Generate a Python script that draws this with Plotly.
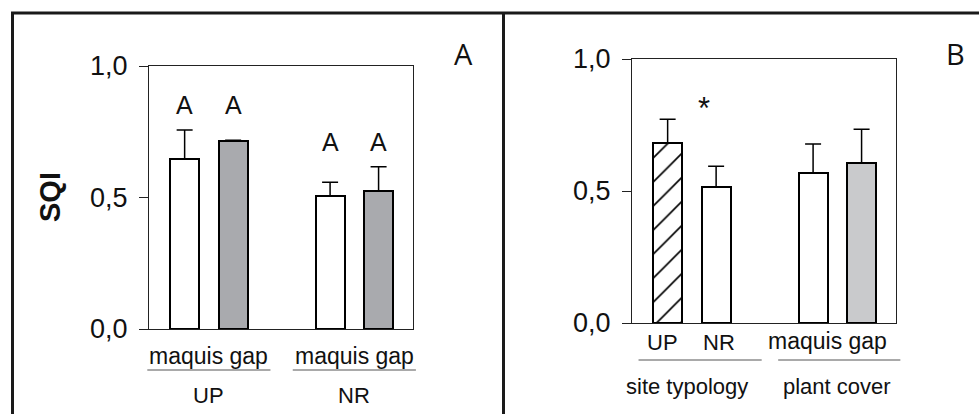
import plotly.graph_objects as go

# ---------------- data ----------------
a_categories = ["maquis", "gap", "maquis", "gap"]
a_groups = ["UP", "NR"]
a_values = [0.646, 0.715, 0.506, 0.525]
a_errors = [0.111, 0.003, 0.052, 0.092]
a_letters = ["A", "A", "A", "A"]

b_categories = ["UP", "NR", "maquis", "gap"]
b_groups = ["site typology", "plant cover"]
b_values = [0.683, 0.515, 0.567, 0.607]
b_errors = [0.089, 0.079, 0.111, 0.127]
b_marks = ["*"]

y_ticks = [0.0, 0.5, 1.0]
y_ticktext = ["0,0", "0,5", "1,0"]

# ---------------- layout helpers ----------------
W, H = 979, 414
xpos = [1, 2, 4, 5]
xr = [0.265, 5.71]
domA = dict(x=[149 / W, 413 / W], y=[1 - 329 / H, 1 - 66 / H])
domB = dict(x=[632 / W, 896 / W], y=[1 - 323 / H, 1 - 59 / H])
FONT = "Liberation Sans, Arial, sans-serif"
BAR_W = 0.6


def xpaper(dom, x):
    return dom["x"][0] + (x - xr[0]) / (xr[1] - xr[0]) * (dom["x"][1] - dom["x"][0])


def ypx(py):
    return 1 - py / H


fig = go.Figure()

a_colors = ["white", "#a9aaae", "white", "#a9aaae"]
fig.add_trace(go.Bar(
    x=xpos, y=a_values, width=BAR_W, xaxis="x", yaxis="y",
    marker=dict(color=a_colors, line=dict(color="black", width=2)),
    error_y=dict(type="data", symmetric=False, array=a_errors,
                 arrayminus=[0] * 4, color="black", thickness=1.5, width=8),
    showlegend=False, hoverinfo="skip"))

b_colors = ["white", "white", "white", "#c9cacc"]
hatched = [0]          # index of the hatched bar (UP)
plain = [1, 2, 3]
err_style = dict(type="data", symmetric=False, color="black", thickness=1.5, width=8)
fig.add_trace(go.Bar(
    x=[xpos[i] for i in hatched], y=[b_values[i] for i in hatched], width=BAR_W,
    xaxis="x2", yaxis="y2",
    marker=dict(color="white", line=dict(color="black", width=2),
                pattern=dict(shape="/", fgcolor="#000000", bgcolor="#ffffff",
                             fgopacity=1, size=17, solidity=0.1)),
    error_y=dict(array=[b_errors[i] for i in hatched], arrayminus=[0] * len(hatched),
                 **err_style),
    showlegend=False, hoverinfo="skip"))
fig.add_trace(go.Bar(
    x=[xpos[i] for i in plain], y=[b_values[i] for i in plain], width=BAR_W,
    xaxis="x2", yaxis="y2",
    marker=dict(color=[b_colors[i] for i in plain], line=dict(color="black", width=2)),
    error_y=dict(array=[b_errors[i] for i in plain], arrayminus=[0] * len(plain),
                 **err_style),
    showlegend=False, hoverinfo="skip"))

axis_common = dict(range=xr, showticklabels=False, ticks="", showgrid=False,
                   zeroline=False, showline=True, mirror=True,
                   linecolor="#222", linewidth=1.3, fixedrange=True)
yaxis_common = dict(range=[0, 1], tickvals=y_ticks, ticktext=y_ticktext,
                    ticks="outside", ticklen=9, tickwidth=1.3, tickcolor="#222",
                    showgrid=False, zeroline=False, showline=True, mirror=True,
                    linecolor="#222", linewidth=1.3,
                    tickfont=dict(family=FONT, size=27, color="#111"),
                    ticklabelstandoff=6, fixedrange=True)

annotations = []
shapes = []


def ann(**kw):
    kw.setdefault("showarrow", False)
    kw.setdefault("xanchor", "center")
    kw.setdefault("yanchor", "middle")
    annotations.append(kw)


for gi in range(2):
    idx = [2 * gi, 2 * gi + 1]
    top = max(a_values[i] + a_errors[i] for i in idx)
    for i in idx:
        ann(x=xpos[i], y=top + 0.095, xref="x", yref="y", text=a_letters[i],
            font=dict(family=FONT, size=25, color="#111"))
for gi, g in enumerate(a_groups):
    i0, i1 = 2 * gi, 2 * gi + 1
    cx = (xpos[i0] + xpos[i1]) / 2
    ann(x=cx, y=ypx(356), xref="x", yref="paper",
        text=a_categories[i0] + " " + a_categories[i1],
        font=dict(family=FONT, size=23, color="#111"))
    ann(x=cx, y=ypx(395), xref="x", yref="paper", text=g,
        font=dict(family=FONT, size=22, color="#111"))
    shapes.append(dict(type="line", xref="paper", yref="paper",
                       x0=xpaper(domA, cx - 1.27), x1=xpaper(domA, cx + 1.27),
                       y0=ypx(370), y1=ypx(370),
                       line=dict(color="#555", width=1)))

for i, c in enumerate(b_categories[:2]):
    ann(x=xpos[i] - 0.1 + 0.15 * i, y=ypx(342), xref="x2", yref="paper", text=c,
        font=dict(family=FONT, size=22, color="#111"))
cxB2 = (xpos[2] + xpos[3]) / 2
ann(x=cxB2 - 0.2, y=ypx(341), xref="x2", yref="paper",
    text=b_categories[2] + " " + b_categories[3],
    font=dict(family=FONT, size=23, color="#111"))
for gi, g in enumerate(b_groups):
    cx = (xpos[2 * gi] + xpos[2 * gi + 1]) / 2
    ann(x=cx - 0.1 * (1 - gi), y=ypx(386), xref="x2", yref="paper", text=g,
        font=dict(family=FONT, size=22, color="#111"))
shapes.append(dict(type="line", xref="paper", yref="paper",
                   x0=xpaper(domB, 0.4), x1=xpaper(domB, 2.94),
                   y0=ypx(360), y1=ypx(360), line=dict(color="#555", width=1)))
shapes.append(dict(type="line", xref="paper", yref="paper",
                   x0=xpaper(domB, 3.28), x1=xpaper(domB, 5.8),
                   y0=ypx(360), y1=ypx(360), line=dict(color="#555", width=1)))
topB = max(b_values[0] + b_errors[0], b_values[1] + b_errors[1])
ann(x=1.74, y=topB + 0.04, xref="x2", yref="y2", text=b_marks[0],
    font=dict(family=FONT, size=31, color="#111"))

ann(x=50 / W, y=ypx(197), xref="paper", yref="paper", text="<b>SQI</b>",
    textangle=-90, font=dict(family=FONT, size=29, color="#111"))
ann(x=463 / W, y=ypx(53), xref="paper", yref="paper", text="A",
    font=dict(family="Open Sans, sans-serif", size=29, color="#111"))
ann(x=955 / W, y=ypx(53), xref="paper", yref="paper", text="B",
    font=dict(family="Open Sans, sans-serif", size=29, color="#111"))

frame = dict(color="#1a1a1a", width=3)
shapes.append(dict(type="line", xref="paper", yref="paper", x0=11 / W, x1=1.0,
                   y0=ypx(13), y1=ypx(13), line=frame))
shapes.append(dict(type="line", xref="paper", yref="paper", x0=12.5 / W, x1=12.5 / W,
                   y0=ypx(12), y1=0, line=frame))
shapes.append(dict(type="line", xref="paper", yref="paper", x0=503.5 / W, x1=503.5 / W,
                   y0=ypx(12), y1=0, line=frame))

fig.update_layout(
    width=W, height=H,
    margin=dict(l=0, r=0, t=0, b=0, autoexpand=False),
    paper_bgcolor="white", plot_bgcolor="white",
    xaxis=dict(domain=domA["x"], anchor="y", **axis_common),
    yaxis=dict(domain=domA["y"], anchor="x", **yaxis_common),
    xaxis2=dict(domain=domB["x"], anchor="y2", **axis_common),
    yaxis2=dict(domain=domB["y"], anchor="x2", **yaxis_common),
    annotations=annotations,
    shapes=shapes,
    bargap=0,
    barmode="overlay",
)

fig.write_html("out.html", config={"displayModeBar": False})
